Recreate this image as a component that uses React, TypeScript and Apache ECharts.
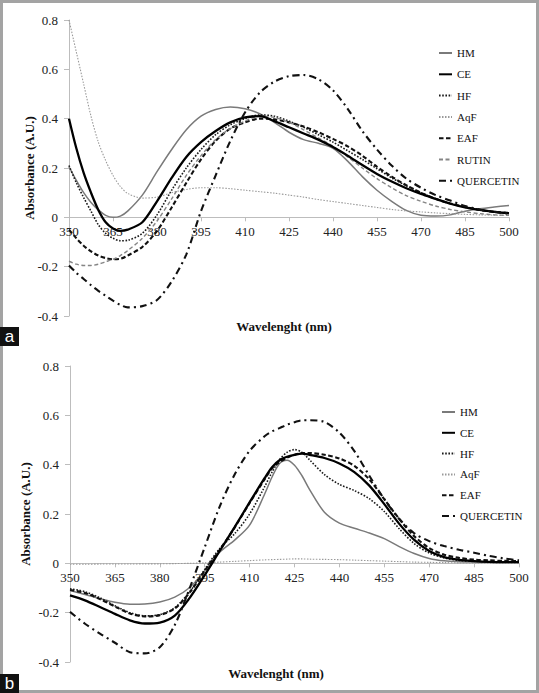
import React, { useEffect, useRef } from "react";
import * as echarts from "echarts";

// ---------- Panel a ----------
const wavelengthsA = [350, 352.5, 355, 357.5, 360, 362.5, 365, 367.5, 370, 375, 380, 385, 390, 395, 400, 405, 410, 415, 420, 425, 430, 435, 440, 445, 450, 455, 460, 465, 470, 475, 480, 485, 490, 495, 500];
const hmA = [0.205, 0.15, 0.1, 0.06, 0.03, 0.008, 0.0, 0.005, 0.025, 0.09, 0.185, 0.275, 0.355, 0.41, 0.437, 0.447, 0.44, 0.42, 0.385, 0.345, 0.315, 0.3, 0.28, 0.228, 0.165, 0.11, 0.065, 0.028, 0.008, 0.005, 0.01, 0.025, 0.035, 0.042, 0.048];
const ceA = [0.4, 0.28, 0.18, 0.1, 0.03, -0.02, -0.045, -0.055, -0.05, -0.02, 0.065, 0.16, 0.245, 0.305, 0.35, 0.385, 0.405, 0.41, 0.39, 0.365, 0.34, 0.315, 0.285, 0.25, 0.212, 0.176, 0.145, 0.118, 0.095, 0.075, 0.055, 0.04, 0.03, 0.022, 0.016];
const hfA = [0.21, 0.14, 0.08, 0.025, -0.03, -0.065, -0.085, -0.095, -0.093, -0.065, 0.01, 0.11, 0.2, 0.275, 0.335, 0.375, 0.4, 0.415, 0.41, 0.39, 0.365, 0.335, 0.305, 0.27, 0.235, 0.197, 0.16, 0.128, 0.1, 0.075, 0.056, 0.042, 0.03, 0.022, 0.018];
const aqfA = [0.8, 0.67, 0.54, 0.41, 0.305, 0.23, 0.17, 0.125, 0.097, 0.078, 0.082, 0.1, 0.113, 0.12, 0.12, 0.116, 0.11, 0.104, 0.098, 0.09, 0.082, 0.072, 0.064, 0.056, 0.048, 0.04, 0.032, 0.026, 0.022, 0.018, 0.015, 0.012, 0.01, 0.009, 0.008];
const eafA = [-0.05, -0.085, -0.115, -0.138, -0.155, -0.165, -0.17, -0.168, -0.155, -0.12, -0.055, 0.04, 0.14, 0.235, 0.31, 0.36, 0.385, 0.4, 0.397, 0.385, 0.368, 0.345, 0.318, 0.288, 0.25, 0.205, 0.165, 0.13, 0.1, 0.075, 0.056, 0.042, 0.03, 0.022, 0.018];
const rutinA = [-0.178, -0.19, -0.195, -0.195, -0.19, -0.18, -0.17, -0.155, -0.135, -0.085, -0.015, 0.075, 0.17, 0.25, 0.315, 0.36, 0.39, 0.41, 0.405, 0.385, 0.355, 0.322, 0.288, 0.245, 0.2, 0.157, 0.12, 0.088, 0.065, 0.046, 0.032, 0.022, 0.015, 0.01, 0.008];
const quercetinA = [-0.195, -0.225, -0.25, -0.275, -0.298, -0.318, -0.338, -0.355, -0.365, -0.36, -0.335, -0.26, -0.15, 0.025, 0.17, 0.31, 0.425, 0.505, 0.55, 0.572, 0.577, 0.56, 0.515, 0.44, 0.35, 0.275, 0.21, 0.157, 0.12, 0.09, 0.068, 0.046, 0.032, 0.022, 0.015];

// ---------- Panel b ----------
const wavelengthsB = [350, 355, 360, 365, 370, 375, 380, 385, 390, 395, 400, 405, 410, 415, 417.5, 420, 422.5, 425, 427.5, 430, 435, 440, 445, 450, 455, 460, 465, 470, 475, 480, 485, 490, 495, 500];
const hmB = [-0.11, -0.126, -0.143, -0.158, -0.166, -0.165, -0.157, -0.137, -0.098, -0.03, 0.045, 0.094, 0.155, 0.28, 0.35, 0.405, 0.418, 0.398, 0.355, 0.3, 0.207, 0.163, 0.142, 0.123, 0.1, 0.068, 0.04, 0.02, 0.01, 0.006, 0.005, 0.004, 0.004, 0.004];
const ceB = [-0.13, -0.15, -0.177, -0.205, -0.231, -0.244, -0.24, -0.212, -0.14, -0.048, 0.05, 0.147, 0.247, 0.345, 0.39, 0.418, 0.432, 0.44, 0.445, 0.44, 0.427, 0.405, 0.37, 0.315, 0.24, 0.16, 0.095, 0.05, 0.025, 0.014, 0.009, 0.006, 0.005, 0.005];
const hfB = [-0.103, -0.115, -0.14, -0.172, -0.2, -0.213, -0.208, -0.18, -0.115, -0.025, 0.06, 0.12, 0.2, 0.31, 0.37, 0.42, 0.45, 0.461, 0.45, 0.42, 0.36, 0.32, 0.295, 0.262, 0.21, 0.14, 0.08, 0.042, 0.022, 0.012, 0.008, 0.006, 0.005, 0.005];
const aqfB = [-0.004, -0.004, -0.003, -0.003, -0.003, -0.002, -0.002, -0.001, 0.0, 0.002, 0.005, 0.008, 0.011, 0.014, 0.015, 0.016, 0.017, 0.018, 0.018, 0.017, 0.016, 0.015, 0.013, 0.011, 0.009, 0.007, 0.005, 0.004, 0.003, 0.002, 0.002, 0.001, 0.001, 0.001];
const eafB = [-0.108, -0.12, -0.145, -0.175, -0.203, -0.215, -0.21, -0.183, -0.118, -0.03, 0.055, 0.145, 0.245, 0.34, 0.385, 0.41, 0.428, 0.44, 0.447, 0.447, 0.44, 0.425, 0.395, 0.34, 0.26, 0.18, 0.11, 0.062, 0.035, 0.022, 0.015, 0.012, 0.01, 0.009];
const quercetinB = [-0.197, -0.245, -0.285, -0.322, -0.36, -0.365, -0.34, -0.25, -0.1, 0.065, 0.23, 0.36, 0.456, 0.515, 0.535, 0.548, 0.562, 0.572, 0.58, 0.58, 0.573, 0.53, 0.455, 0.355, 0.26, 0.18, 0.122, 0.09, 0.07, 0.055, 0.043, 0.03, 0.02, 0.012];

const namesA = ["HM", "CE", "HF", "AqF", "EAF", "RUTIN", "QUERCETIN"];
const valuesA = [hmA, ceA, hfA, aqfA, eafA, rutinA, quercetinA];
const namesB = ["HM", "CE", "HF", "AqF", "EAF", "QUERCETIN"];
const valuesB = [hmB, ceB, hfB, aqfB, eafB, quercetinB];

const xTitle = "Wavelenght (nm)";
const yTitle = "Absorbance (A.U.)";

const SERIF = "'Liberation Serif', 'Times New Roman', serif";

const lineStyles: Record<string, any> = {
  HM: { color: "#7a7a7a", width: 1.5, type: "solid" },
  CE: { color: "#000000", width: 2.3, type: "solid" },
  HF: { color: "#1a1a1a", width: 1.6, type: [1.6, 1.6] },
  AqF: { color: "#9a9a9a", width: 1.1, type: [1.5, 1.5] },
  EAF: { color: "#111111", width: 2.1, type: [4.5, 2.5] },
  RUTIN: { color: "#858585", width: 1.4, type: [4, 2.5] },
  QUERCETIN: { color: "#111111", width: 2.1, type: [7, 4, 2, 4] },
};

const Y_MIN = -0.4;
const Y_MAX = 0.8;
const GRID_H = 296;
// distance (px) from the grid's bottom edge to the zero line
const ZERO_OFFSET = (GRID_H * (0 - Y_MIN)) / (Y_MAX - Y_MIN);

const fmtY = (v: number) => {
  const r = Math.round(v * 10) / 10;
  return r === 0 ? "0" : r.toFixed(1);
};

function makeSeries(names: string[], values: number[][], wl: number[], idx: number) {
  return names.map((n, i) => ({
    type: "line",
    name: n,
    xAxisIndex: idx,
    yAxisIndex: idx,
    data: wl.map((w, j) => [w, values[i][j]]),
    symbol: "none",
    smooth: 0.3,
    lineStyle: lineStyles[n],
    itemStyle: { color: lineStyles[n].color },
    z: n === "CE" || n === "QUERCETIN" ? 3 : 2,
  }));
}

function makeX(idx: number) {
  return {
    type: "value",
    gridIndex: idx,
    position: "bottom",
    offset: -ZERO_OFFSET,
    min: 350,
    max: 500,
    interval: 15,
    axisLine: { onZero: false, lineStyle: { color: "#bdbdbd", width: 1 } },
    axisTick: { show: true, length: 4, lineStyle: { color: "#bdbdbd" } },
    axisLabel: { color: "#222", fontFamily: SERIF, fontSize: 13, margin: 8 },
    splitLine: { show: false },
  };
}

function makeY(idx: number, gap: number) {
  return {
    type: "value",
    gridIndex: idx,
    min: Y_MIN,
    max: Y_MAX,
    interval: 0.2,
    name: yTitle,
    nameLocation: "middle",
    nameGap: gap,
    nameMoveOverlap: false,
    nameTextStyle: { fontFamily: SERIF, fontWeight: "bold", fontSize: 13, color: "#111" },
    axisLine: { show: true, onZero: false, lineStyle: { color: "#bdbdbd", width: 1 } },
    axisTick: { show: true, length: 5, lineStyle: { color: "#bdbdbd" } },
    axisLabel: { color: "#222", fontFamily: SERIF, fontSize: 13, margin: 11, formatter: fmtY },
    splitLine: { show: false },
  };
}

function makeLegend(names: string[], left: number, top: number, gap: number) {
  return {
    data: names,
    orient: "vertical",
    left,
    top,
    itemWidth: 13,
    itemHeight: 14,
    itemGap: gap,
    itemStyle: { opacity: 0 },
    textStyle: { fontFamily: SERIF, fontSize: 11, lineHeight: 14, color: "#111" },
    selectedMode: false,
  };
}

export default function App() {
  const ref = useRef<HTMLDivElement>(null);
  useEffect(() => {
    document.body.style.margin = "0";
    const chart = echarts.init(ref.current!, undefined, { renderer: "svg" });
    chart.setOption({
      animation: false,
      backgroundColor: "#ffffff",
      grid: [
        { left: 69, top: 20, width: 440, height: GRID_H },
        { left: 70, top: 366, width: 449, height: GRID_H },
      ],
      xAxis: [makeX(0), makeX(1)],
      yAxis: [makeY(0, 33), makeY(1, 38)],
      legend: [makeLegend(namesA, 433, 41, 7.3), makeLegend(namesB, 436, 400, 6.8)],
      series: [...makeSeries(namesA, valuesA, wavelengthsA, 0), ...makeSeries(namesB, valuesB, wavelengthsB, 1)],
      graphic: [
        { type: "rect", shape: { x: 1.5, y: 1.5, width: 536, height: 690 }, style: { fill: "none", stroke: "#a3a3a3", lineWidth: 3 }, z: 10 },
        { type: "text", x: 284, y: 326, style: { text: xTitle, font: `bold 13px ${SERIF}`, fill: "#111", align: "center", verticalAlign: "middle" } },
        { type: "text", x: 276, y: 673, style: { text: xTitle, font: `bold 13px ${SERIF}`, fill: "#111", align: "center", verticalAlign: "middle" } },
        { type: "rect", shape: { x: 0, y: 327, width: 19, height: 19 }, style: { fill: "#111" }, z: 11 },
        { type: "text", x: 9.5, y: 336, style: { text: "a", font: "17px 'Liberation Sans', sans-serif", fill: "#fff", align: "center", verticalAlign: "middle" }, z: 12 },
        { type: "rect", shape: { x: 0, y: 674, width: 19, height: 19 }, style: { fill: "#111" }, z: 11 },
        { type: "text", x: 9.5, y: 683, style: { text: "b", font: "17px 'Liberation Sans', sans-serif", fill: "#fff", align: "center", verticalAlign: "middle" }, z: 12 },
      ],
    });
    return () => chart.dispose();
  }, []);
  return <div ref={ref} style={{ width: 539, height: 693 }} />;
}
